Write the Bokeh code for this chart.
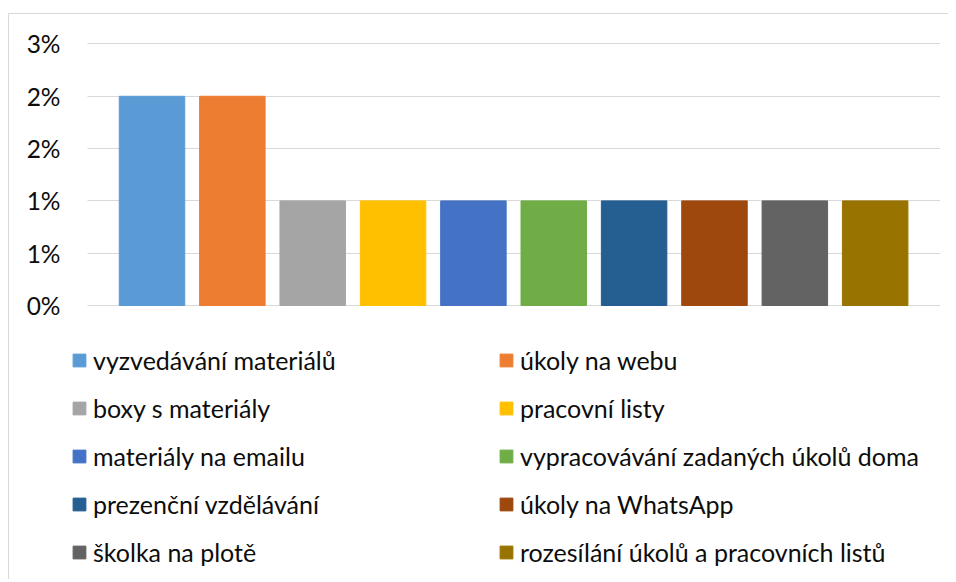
from bokeh.plotting import figure
from bokeh.models import (ColumnDataSource, Range1d, FixedTicker, Legend, LegendItem)
from bokeh.embed import file_html
from bokeh.resources import INLINE

# ---- data ----
categories = [
    "vyzvedávání materiálů",
    "úkoly na webu",
    "boxy s materiály",
    "pracovní listy",
    "materiály na emailu",
    "vypracovávání zadaných úkolů doma",
    "prezenční vzdělávání",
    "úkoly na WhatsApp",
    "školka na plotě",
    "rozesílání úkolů a pracovních listů",
]
values = [2.0, 2.0, 1.0, 1.0, 1.0, 1.0, 1.0, 1.0, 1.0, 1.0]  # percent
colors = ["#5B9BD5", "#ED7D31", "#A5A5A5", "#FFC000", "#4472C4",
          "#70AD47", "#255E91", "#9E480E", "#636363", "#997300"]
y_ticks = [0, 0.5, 1.0, 1.5, 2.0, 2.5]
y_tick_labels = ["0%", "1%", "1%", "2%", "2%", "3%"]

FONT = "Lato"
TEXT = "#0D0D0D"
GRID = "#D9D9D9"

src = ColumnDataSource(dict(x=list(range(len(categories))), cat=categories,
                            val=values, color=colors))

p = figure(
    width=940, height=566,
    x_range=Range1d(-1.0765, 9.813),
    y_range=Range1d(-2.629, 2.514),
    x_axis_location=None,
    output_backend="svg", toolbar_location=None,
    min_border_left=56, min_border_right=9, min_border_top=28, min_border_bottom=0,
)
p.styles = {"position": "relative", "left": "8px", "top": "13px",
            "border-top": f"1px solid {GRID}", "border-left": f"1px solid {GRID}"}
p.outline_line_color = None
p.xgrid.grid_line_color = None
p.ygrid.grid_line_color = GRID
p.ygrid.grid_line_width = 1
p.ygrid.cross_bounds = (-0.803, 9.813)

r = p.vbar(x="x", top="val", width=0.815, color="color", source=src)

ax = p.yaxis[0]
ax.ticker = FixedTicker(ticks=y_ticks)
p.ygrid.ticker = FixedTicker(ticks=y_ticks)
ax.major_label_overrides = {t: l for t, l in zip(y_ticks, y_tick_labels)}
ax.axis_line_color = None
ax.major_tick_line_color = None
ax.minor_tick_line_color = None
ax.major_tick_out = 0
ax.major_tick_in = 0
ax.major_label_standoff = 5
ax.major_label_text_font = FONT
ax.major_label_text_font_size = "24.5px"
ax.major_label_text_color = TEXT


def make_legend(idx, loc):
    items = [LegendItem(label=categories[i], renderers=[r], index=i) for i in idx]
    return Legend(items=items, location=loc, orientation="vertical",
                  padding=0, margin=0, spacing=16,
                  glyph_width=16, glyph_height=16, label_height=32,
                  label_standoff=6, label_text_font=FONT,
                  label_text_font_size="25px", label_text_color=TEXT,
                  border_line_color=None, background_fill_alpha=0)


p.add_layout(make_legend(range(0, 10, 2), (6, 12)))
p.add_layout(make_legend(range(1, 10, 2), (433, 12)))

open("out.html", "w").write(file_html(p, INLINE))
